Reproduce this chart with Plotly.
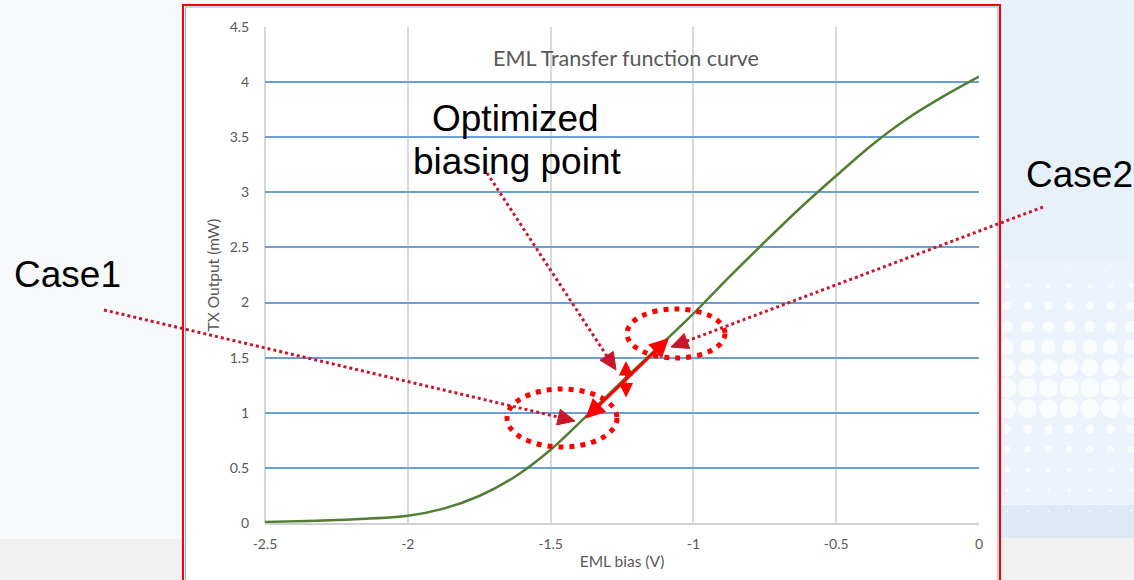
import plotly.graph_objects as go

# ---------------- data ----------------
bias_v = [-2.5, -2.25, -2.0, -1.875, -1.75, -1.625, -1.5, -1.375, -1.25, -1.125,
          -1.0, -0.875, -0.75, -0.625, -0.5, -0.375, -0.25, -0.125, 0.0]
tx_mw = [0.01, 0.027, 0.065, 0.13, 0.245, 0.42, 0.665, 0.97, 1.285, 1.59,
         1.9, 2.23, 2.55, 2.86, 3.15, 3.43, 3.67, 3.87, 4.05]

x_tick_vals = [-2.5, -2.0, -1.5, -1.0, -0.5, 0.0]
x_tick_text = ["-2.5", "-2", "-1.5", "-1", "-0.5", "0"]
y_tick_vals = [0, 0.5, 1, 1.5, 2, 2.5, 3, 3.5, 4, 4.5]
y_tick_text = ["0", "0.5", "1", "1.5", "2", "2.5", "3", "3.5", "4", "4.5"]

chart_title = "EML Transfer function curve"
x_title = "EML bias (V)"
y_title = "TX Output (mW)"
callouts = ["Case1", "Case2", "Optimized", "biasing point"]

# ---------------- geometry helpers (pixel -> paper) ----------------
W, H = 1134, 580
ML, MR, MT, MB = 265, 155, 27, 57
PW, PH = W - ML - MR, H - MT - MB


def px(x):
    return (x - ML) / PW


def py(y):
    return (H - MB - y) / PH


shapes = []
annotations = []

# slide background pieces
shapes.append(dict(type="rect", xref="paper", yref="paper", x0=px(0), x1=px(183), y0=py(539), y1=py(0),
                   fillcolor="#f7f9fc", line_width=0, layer="below"))
shapes.append(dict(type="rect", xref="paper", yref="paper", x0=px(0), x1=px(183), y0=py(580), y1=py(539),
                   fillcolor="#f1f1f1", line_width=0, layer="below"))
shapes.append(dict(type="rect", xref="paper", yref="paper", x0=px(1000), x1=px(1134), y0=py(538), y1=py(0),
                   fillcolor="#e8f0fa", line_width=0, layer="below"))
shapes.append(dict(type="rect", xref="paper", yref="paper", x0=px(1000), x1=px(1134), y0=py(505), y1=py(260),
                   fillcolor="#edf3fc", line_width=0, layer="below"))
shapes.append(dict(type="rect", xref="paper", yref="paper", x0=px(1000), x1=px(1134), y0=py(538), y1=py(505),
                   fillcolor="#dde9f8", line_width=0, layer="below"))
shapes.append(dict(type="rect", xref="paper", yref="paper", x0=px(1000), x1=px(1134), y0=py(580), y1=py(538),
                   fillcolor="#f1f1f1", line_width=0, layer="below"))
# decorative dot pattern on the right
for r in range(13):
    yy = 265 + r * 20.5
    if r < 6:
        rad = 1.0 + r * 1.6
    elif r < 8:
        rad = 9.5
    else:
        rad = max(1.0, 4.5 - (r - 8) * 1.0)
    for c in range(7):
        xx = 1007 + c * 20.7
        shapes.append(dict(type="circle", xref="paper", yref="paper",
                           x0=px(xx - rad), x1=px(xx + rad), y0=py(yy + rad), y1=py(yy - rad),
                           fillcolor="rgba(255,255,255,0.75)", line_width=0, layer="below"))

# chart box (white) with borders
shapes.append(dict(type="rect", xref="paper", yref="paper", x0=px(183), x1=px(1000), y0=py(600), y1=py(5),
                   fillcolor="white", line_width=0, layer="below"))
shapes.append(dict(type="rect", xref="paper", yref="paper", x0=px(185.5), x1=px(998), y0=py(600), y1=py(7),
                   fillcolor="rgba(0,0,0,0)", line=dict(color="#8db4e2", width=1.2), layer="above"))
shapes.append(dict(type="rect", xref="paper", yref="paper", x0=px(183), x1=px(1000), y0=py(600), y1=py(5),
                   fillcolor="rgba(0,0,0,0)", line=dict(color="#ff0000", width=2), layer="above"))

# dotted ellipses
shapes.append(dict(type="circle", xref="paper", yref="paper", x0=px(507), x1=px(617), y0=py(447), y1=py(389),
                   line=dict(color="#ff0000", width=5, dash="5px,6px"), layer="above"))
shapes.append(dict(type="circle", xref="paper", yref="paper", x0=px(627), x1=px(725), y0=py(358), y1=py(309),
                   line=dict(color="#ff0000", width=5, dash="5px,6px"), layer="above"))

# dotted pointer lines with triangle heads
DR = "#c8172b"
pointers = [((104, 310), (575, 421)), ((487, 173), (616, 370)), ((1043, 207), (671, 347))]
for (x0, y0), (x1, y1) in pointers:
    dx, dy = x1 - x0, y1 - y0
    L = (dx * dx + dy * dy) ** 0.5
    ux, uy = dx / L, dy / L
    nx, ny = -uy, ux
    hl, hw = 17, 8
    bx, by = x1 - ux * hl, y1 - uy * hl
    shapes.append(dict(type="line", xref="paper", yref="paper", x0=px(x0), y0=py(y0), x1=px(bx + ux * 2), y1=py(by + uy * 2),
                       line=dict(color=DR, width=3, dash="3px,3px"), layer="above"))
    path = "M {} {} L {} {} L {} {} Z".format(px(x1), py(y1), px(bx + nx * hw), py(by + ny * hw),
                                              px(bx - nx * hw), py(by - ny * hw))
    shapes.append(dict(type="path", xref="paper", yref="paper", path=path, fillcolor=DR,
                       line=dict(color=DR, width=1), layer="above"))

# solid red double arrows
annotations.append(dict(xref="paper", yref="paper", x=px(669), y=py(338), axref="pixel", ayref="pixel",
                        ax=584 - 669, ay=420 - 338, text="", showarrow=True, arrowside="end+start",
                        arrowhead=2, arrowsize=1.3, arrowwidth=3, arrowcolor="#ff0000", standoff=0, startstandoff=0))
annotations.append(dict(xref="paper", yref="paper", x=px(626), y=py(361), axref="pixel", ayref="pixel",
                        ax=0, ay=38, text="", showarrow=True, arrowside="end+start",
                        arrowhead=2, arrowsize=2.4, arrowwidth=1.2, arrowcolor="#ff0000", standoff=0, startstandoff=0))

# callout texts
CF = dict(family="Liberation Sans, Arial", size=37, color="black")
annotations.append(dict(xref="paper", yref="paper", x=px(12), y=py(274), xanchor="left", yanchor="middle",
                        text=callouts[0], showarrow=False, font=CF))
annotations.append(dict(xref="paper", yref="paper", x=px(1024), y=py(175), xanchor="left", yanchor="middle",
                        text=callouts[1], showarrow=False, font=CF))
annotations.append(dict(xref="paper", yref="paper", x=px(515), y=py(119), xanchor="center", yanchor="middle",
                        text=callouts[2], showarrow=False, font=CF))
annotations.append(dict(xref="paper", yref="paper", x=px(516.5), y=py(161), xanchor="center", yanchor="middle",
                        text=callouts[3], showarrow=False, font=CF))

# chart title inside plot
annotations.append(dict(xref="paper", yref="paper", x=px(626), y=py(58), xanchor="center", yanchor="middle",
                        text=chart_title, showarrow=False,
                        font=dict(family="Lato, Open Sans", size=21.5, color="#595959")))

fig = go.Figure()
fig.add_trace(go.Scatter(x=bias_v, y=tx_mw, mode="lines", line=dict(color="#507e32", width=2.5, shape="spline"),
                         showlegend=False, hoverinfo="skip"))

TF = dict(family="Lato, Open Sans", size=14, color="#595959")
AF = dict(family="Lato, Open Sans", size=15.5, color="#595959")
fig.update_layout(
    width=W, height=H,
    margin=dict(l=ML, r=MR, t=MT, b=MB, autoexpand=False),
    paper_bgcolor="#f7f9fc",
    plot_bgcolor="rgba(0,0,0,0)",
    showlegend=False,
    shapes=shapes,
    annotations=annotations,
    xaxis=dict(range=[-2.5, 0], tickvals=x_tick_vals, ticktext=x_tick_text, showgrid=True,
               gridcolor="#d9d9d9", gridwidth=1.5, zeroline=False, showline=True, linecolor="#d0d0d0",
               linewidth=1.5, ticks="outside", ticklen=7, tickcolor="rgba(0,0,0,0)", tickfont=TF,
               title=dict(text=x_title, font=AF, standoff=6),
               fixedrange=True),
    yaxis=dict(range=[0, 4.5], tickvals=y_tick_vals, ticktext=y_tick_text, showgrid=True,
               gridcolor="#6a9fd8", gridwidth=1.6, zeroline=False, showline=False,
               ticks="outside", ticklen=12, tickcolor="rgba(0,0,0,0)", tickfont=TF,
               title=dict(text=y_title, font=AF, standoff=6),
               fixedrange=True),
)
# left axis grey line at x=-2.5
fig.add_shape(type="line", xref="paper", yref="paper", x0=0, x1=0, y0=0, y1=1,
              line=dict(color="#c8c8c8", width=1.5), layer="below")

fig.write_html("out.html", config={"displayModeBar": False},
               post_script="document.body.style.margin='0px';document.body.style.overflow='hidden';")
